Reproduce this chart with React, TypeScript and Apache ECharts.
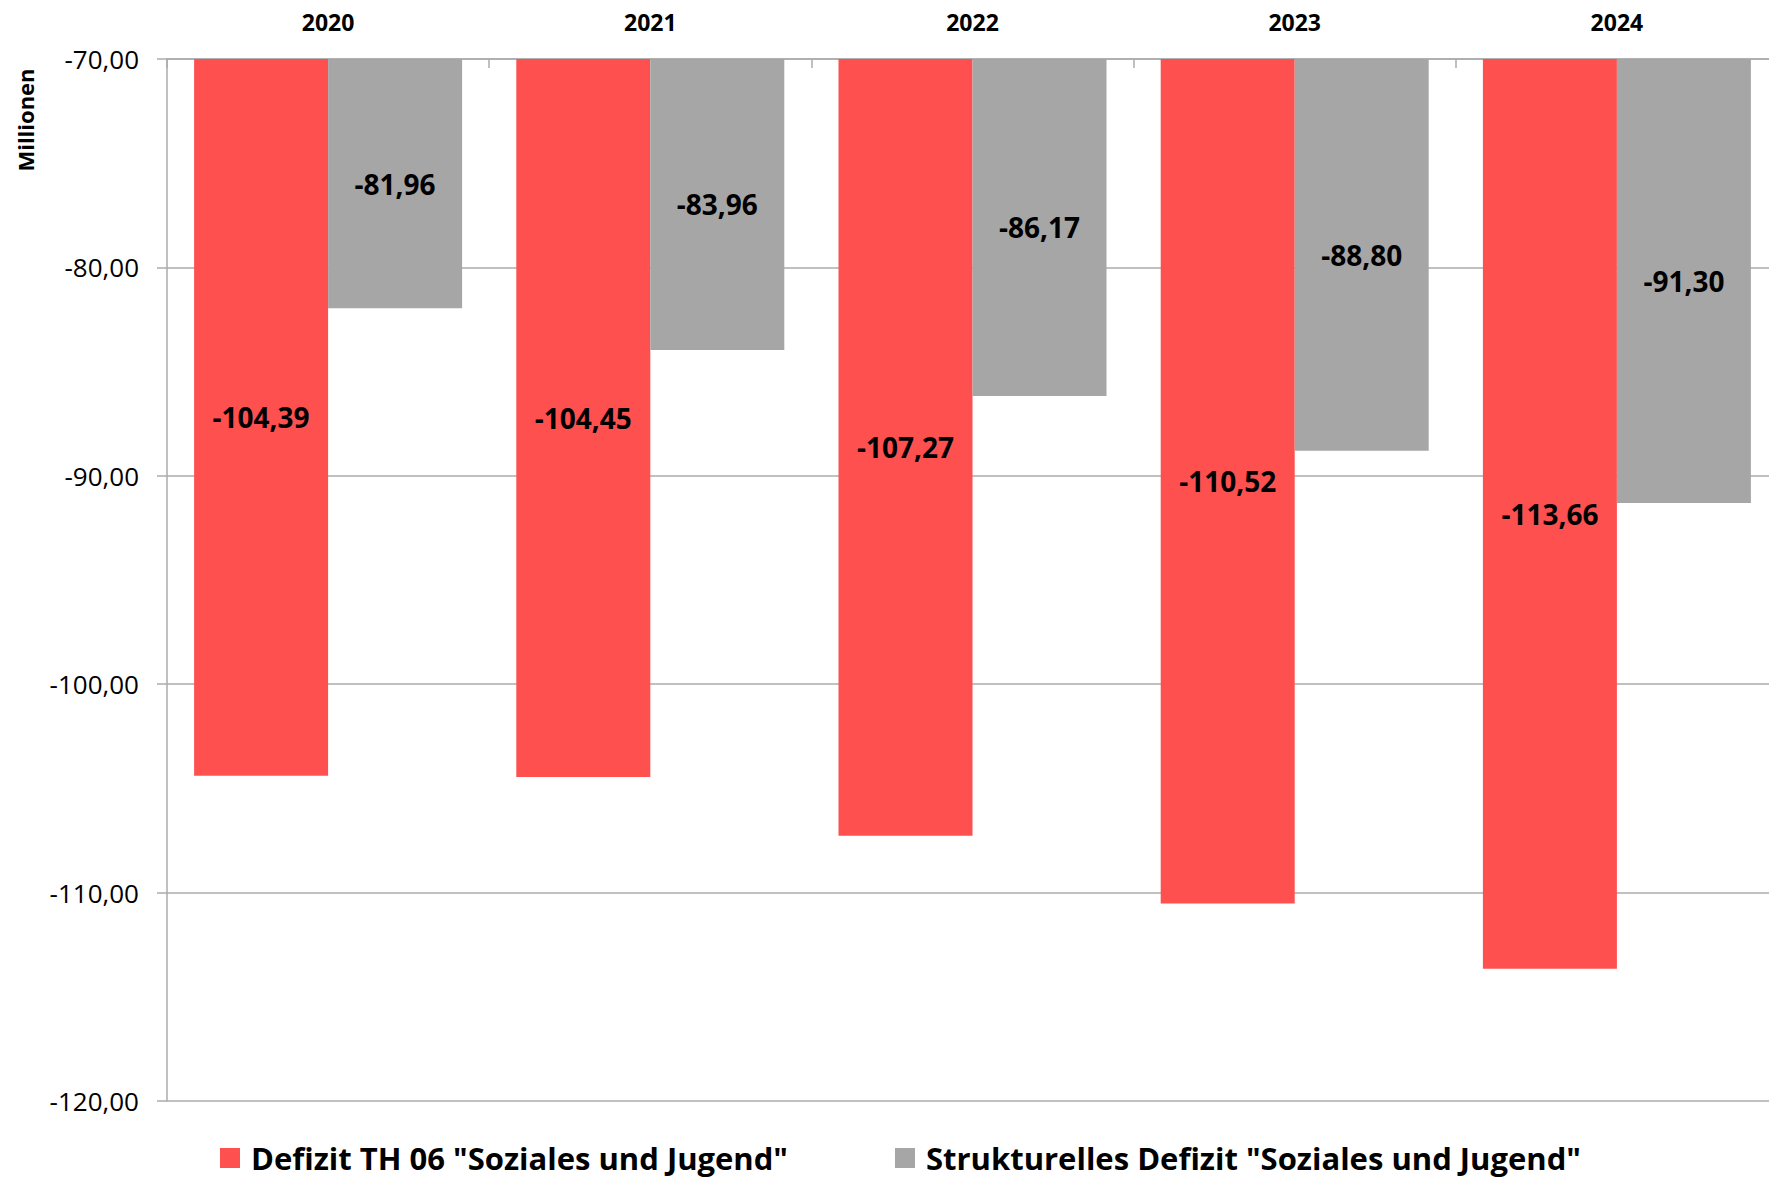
import React, { useEffect, useRef } from "react";
import * as echarts from "echarts";

const categories = ["2020", "2021", "2022", "2023", "2024"];
const defizitTH06 = [-104.39, -104.45, -107.27, -110.52, -113.66];
const strukturellesDefizit = [-81.96, -83.96, -86.17, -88.8, -91.3];
const seriesNames = [
  'Defizit TH 06 "Soziales und Jugend"',
  'Strukturelles Defizit "Soziales und Jugend"',
];
const yMin = -120;
const yMax = -70;
const yInterval = 10;
const yAxisName = "Millionen";

const FONT = "'Open Sans', 'Noto Sans', sans-serif";
const RED = "#FF5050";
const GRAY = "#A6A6A6";
const LINE = "#ABABAB";

const fmt = (v: number) => v.toFixed(2).replace(".", ",");

export default function App() {
  const ref = useRef<HTMLDivElement>(null);
  useEffect(() => {
    if (!ref.current) return;
    const chart = echarts.init(ref.current, null, { renderer: "svg" });
    const labelCfg = {
      show: true,
      position: "inside",
      color: "#000",
      fontFamily: FONT,
      fontWeight: "bold",
      fontSize: 28,
      formatter: (p: any) => fmt(p.value),
    };
    const legendText = {
      color: "#000",
      fontFamily: FONT,
      fontWeight: "bold",
      fontSize: 31,
      lineHeight: 32,
      padding: [0, 0, 0, 6],
    };
    chart.setOption({
      animation: false,
      backgroundColor: "#fff",
      grid: { left: 167, top: 59, right: 0, bottom: 80, containLabel: false },
      xAxis: {
        type: "category",
        position: "top",
        data: categories,
        axisLine: { show: true, lineStyle: { color: LINE, width: 1.5 } },
        axisTick: { show: true, inside: true, length: 9, lineStyle: { color: LINE, width: 1.5 } },
        axisLabel: {
          color: "#000",
          fontFamily: FONT,
          fontWeight: "bold",
          fontSize: 23,
          margin: 26,
        },
      },
      yAxis: {
        type: "value",
        min: yMin,
        max: yMax,
        interval: yInterval,
        startValue: yMax,
        axisLine: { show: true, lineStyle: { color: LINE, width: 1.5 } },
        axisTick: { show: true, length: 10, lineStyle: { color: LINE, width: 1.5 } },
        splitLine: { show: true, lineStyle: { color: LINE, width: 1.5 } },
        axisLabel: {
          color: "#000",
          fontFamily: FONT,
          fontSize: 26,
          margin: 28,
          formatter: (v: number) => fmt(v),
        },
      },
      legend: [
        {
          data: [seriesNames[0]],
          left: 215,
          top: 1137,
          itemWidth: 20,
          itemHeight: 20,
          icon: "rect",
          textStyle: legendText,
        },
        {
          data: [seriesNames[1]],
          left: 890,
          top: 1137,
          itemWidth: 20,
          itemHeight: 20,
          icon: "rect",
          textStyle: legendText,
        },
      ],
      graphic: [
        {
          type: "text",
          x: 25,
          y: 120,
          rotation: Math.PI / 2,
          style: {
            text: yAxisName,
            fill: "#000",
            font: `bold 22px ${FONT}`,
            align: "center",
            verticalAlign: "middle",
          },
        },
      ],
      series: [
        {
          name: seriesNames[0],
          type: "bar",
          data: defizitTH06,
          barWidth: 134,
          barGap: "0%",
          itemStyle: { color: RED },
          label: labelCfg,
          clip: true,
        },
        {
          name: seriesNames[1],
          type: "bar",
          data: strukturellesDefizit,
          barWidth: 134,
          barGap: "0%",
          itemStyle: { color: GRAY },
          label: labelCfg,
          clip: true,
        },
      ],
    });
    return () => chart.dispose();
  }, []);
  return (
    <div style={{ position: "absolute", left: 0, top: 0, width: 1769, height: 1181, overflow: "hidden" }}>
      <div ref={ref} style={{ width: 1778, height: 1181 }} />
    </div>
  );
}
